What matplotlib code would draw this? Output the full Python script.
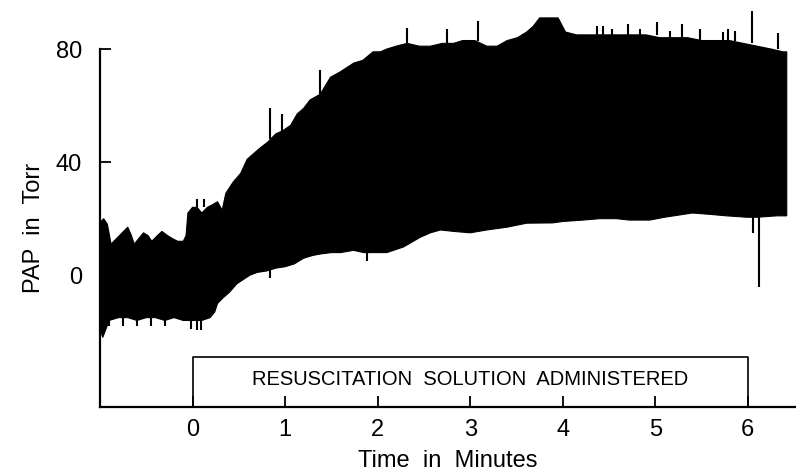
import numpy as np
import matplotlib
matplotlib.use("Agg")
import matplotlib.pyplot as plt

# 读图所得：上包络（分钟, Torr）
t_upper = [-0.99, -0.96, -0.92, -0.88, -0.82, -0.76, -0.70, -0.66, -0.63, -0.58,
           -0.53, -0.48, -0.44, -0.38, -0.33, -0.27, -0.22, -0.16, -0.10, -0.07,
           -0.05, 0.00, 0.05, 0.10, 0.16, 0.22, 0.27, 0.32, 0.36, 0.44,
           0.52, 0.59, 0.66, 0.73, 0.81, 0.84, 0.90, 0.97, 1.06, 1.13,
           1.20, 1.27, 1.38, 1.49, 1.60, 1.74, 1.84, 1.95, 2.03, 2.10,
           2.20, 2.32, 2.45, 2.57, 2.70, 2.82, 2.92, 3.05, 3.18, 3.29,
           3.40, 3.51, 3.61, 3.68, 3.75, 3.85, 3.95, 4.03, 4.15, 4.30,
           4.45, 4.60, 4.75, 4.90, 5.05, 5.20, 5.35, 5.50, 5.65, 5.80,
           5.95, 6.10, 6.25, 6.38, 6.42]
v_upper = [19, 20, 18, 11, 13, 15, 17, 14, 11, 13,
           15, 14, 12, 14, 15.5, 14, 13, 12, 12, 14,
           22, 24, 24, 22, 24, 25, 26, 23, 29, 33,
           36, 41, 43, 45, 47, 48, 50, 51, 53, 57,
           59, 62, 64, 70, 72, 75, 76, 79, 79, 80,
           81, 82, 81, 81, 82, 82, 83, 83, 81, 81,
           83, 84, 86, 88, 91, 91, 91, 86, 85, 85,
           85, 85, 85, 85, 84, 84, 84, 83, 83, 83,
           82, 81, 80, 79, 79]

# 下包络
t_lower = [-0.99, -0.97, -0.90, -0.80, -0.70, -0.60, -0.50, -0.40, -0.30, -0.20,
           -0.10, 0.00, 0.10, 0.19, 0.24, 0.27, 0.33, 0.40, 0.48, 0.55,
           0.62, 0.70, 0.80, 0.90, 1.00, 1.10, 1.20, 1.30, 1.38, 1.50,
           1.60, 1.74, 1.85, 1.95, 2.10, 2.28, 2.46, 2.57, 2.68, 2.82,
           3.00, 3.18, 3.40, 3.61, 3.89, 4.00, 4.22, 4.40, 4.58, 4.72,
           4.94, 5.10, 5.30, 5.40, 5.60, 5.77, 5.99, 6.10, 6.31, 6.42]
v_lower = [-20, -22, -16, -15, -15, -16, -15, -15, -16, -15,
           -16, -16, -16, -15, -13, -10, -8, -6, -3, -1.5,
           0, 1, 1.5, 2.5, 3, 4, 6, 7, 7.5, 8,
           8, 8.8, 8, 8, 8, 10, 13.4, 15, 16, 15.5,
           15, 16, 17, 18.4, 18.5, 19, 19.5, 20, 20, 19.5,
           19.5, 20.5, 21.5, 22, 21.5, 21, 20.5, 20.5, 21, 21]

# 单独的尖峰（时间, 起点, 终点）
spike_t = [0.05, 0.12, 0.84, 0.97, 1.38, 2.32, 2.75, 3.08, 4.37, 4.70, 5.02, 5.29, 6.04, 6.33,
           4.43, 4.53, 4.83, 5.16, 5.48, 5.73, 5.78, 5.86,
           -0.02, 0.05, 0.09, 0.84, 1.89, 6.06, 6.12,
           -0.90, -0.75, -0.60, -0.45, -0.30]
spike_from = [24, 24, 48, 51, 64, 82, 82, 83, 85, 85, 85, 84, 82, 80,
              85, 85, 85, 84, 83, 83, 83, 83,
              -15, -15, -15, 3, 8, 21, 21,
              -15, -15, -15, -15, -15]
spike_to = [27, 27, 59, 57, 72.5, 87.6, 87, 90, 88, 88.7, 89.5, 89, 93.6, 85.5,
            88, 87, 87, 86.5, 87, 86, 87, 86.5,
            -19, -19.5, -19.5, -1, 5, 15, -4.2,
            -18, -18, -18, -18, -18]

x_ticks = [0, 1, 2, 3, 4, 5, 6]
y_ticks = [0, 40, 80]
box_start, box_end, box_top = 0, 6, -29
box_text = "RESUSCITATION  SOLUTION  ADMINISTERED"

plt.rcParams["font.family"] = ["Liberation Sans", "DejaVu Sans"]

fig = plt.figure(figsize=(7.96, 4.74), dpi=100, facecolor="white")
ax = fig.add_axes([0.1256, 0.1414, 0.8744, 0.7552])
ymin, ymax = -46.6, 80

ax.fill(np.r_[t_upper, t_lower[::-1]], np.r_[v_upper, v_lower[::-1]],
        color="black", lw=0.8, clip_on=False)
ax.vlines(spike_t, spike_from, spike_to, color="black", lw=1.5, clip_on=False)

# 给药框
ax.plot([box_start, box_start, box_end, box_end], [ymin, box_top, box_top, ymin],
        color="black", lw=1.2)
ax.text((box_start + box_end) / 2, (ymin + box_top) / 2 + 0.8, box_text,
        ha="center", va="center", fontsize=14.5)

ax.set_xlim(-1, 6.52)
ax.set_ylim(ymin, ymax)
ax.set_xticks(x_ticks)
ax.set_yticks(y_ticks)
ax.tick_params(direction="in", length=8, width=1.3, labelsize=17)
ax.tick_params(axis="x", pad=9)
ax.tick_params(axis="y", pad=13)
for s in ["top", "right"]:
    ax.spines[s].set_visible(False)
for s in ["left", "bottom"]:
    ax.spines[s].set_linewidth(1.6)

ax.set_xlabel("Time  in  Minutes", fontsize=17, labelpad=6)
ax.set_ylabel("PAP  in  Torr", fontsize=17, labelpad=8)

fig.savefig("out.png", dpi=100, facecolor="white")
